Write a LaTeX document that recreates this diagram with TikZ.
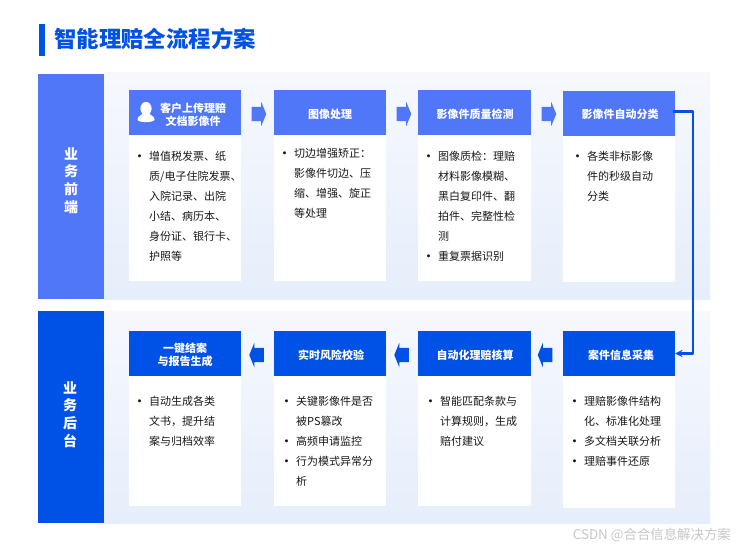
\documentclass[tikz,border=0pt]{standalone}
\usepackage{fontspec}
\setmainfont{Noto Sans CJK SC}
\usetikzlibrary{shapes.arrows}
\definecolor{lanA}{HTML}{5077F8}
\definecolor{lanB}{HTML}{0052E6}
\definecolor{panA}{HTML}{F6F8FD}
\definecolor{panB}{HTML}{E6EEFB}
\newcommand{\bul}{\llap{\bfseries •\hspace{4pt}}}
\tikzset{
	sidebox/.style={inner sep=0pt, minimum width=66pt},
	sidetext/.style={inner sep=0pt, text=white, align=center, font=\fontsize{14}{17.6}\selectfont\bfseries},
	headbox/.style={inner sep=0pt, minimum height=45pt},
	headtext/.style={inner sep=0pt, text=white, align=center, font=\fontsize{11}{12.7}\selectfont\bfseries},
	bodybox/.style={fill=white, inner sep=0pt},
	bodytext/.style={inner sep=0pt, anchor=north west, align=left, text=black!90, font=\fontsize{11}{20}\selectfont},
	blockarrow/.style={single arrow, inner xsep=0pt, inner ysep=7pt, minimum height=14.5pt, single arrow head extend=5pt, single arrow tip angle=135},
	flowline/.style={->, draw=lanB, line width=2.2pt}
}
\begin{document}
\begin{tikzpicture}[>=stealth, line join=round, x=1pt, y=-1pt]
	\useasboundingbox (0,0) rectangle (741,548);
	\fill[white] (0,0) rectangle (741,548);
	% ==================== 标题 ====================
	\fill[lanB] (39,24) rectangle (45,56);
	\node[anchor=west, inner sep=0pt, text=lanB, font=\fontsize{22.4}{24}\selectfont\bfseries] (title) at (54,39) {智能理赔全流程方案};
	% ==================== 底板 ====================
	\shade[top color=panA, bottom color=panB] (104,73) rectangle (710,299);
	\shade[top color=panA, bottom color=panB] (104,311) rectangle (710,523);
	\node[sidebox, fill=lanA, minimum height=225pt] (front) at (71,186.5) {};
	\node[sidebox, fill=lanB, minimum height=212pt] (back) at (71,417) {};
	\node[sidetext] (fronttext) at (71,180.5) {业\\务\\前\\端};
	\node[sidetext] (backtext) at (70,414.5) {业\\务\\后\\台};
	% ==================== 卡片 ====================
	\foreach \n/\x/\y/\w/\h in {1/185/208/112/146,2/330/208/112/146,3/474.5/208/113/146,4/619/209/112/146,5/619/442/112/132,6/474.5/441/113/130,7/330/441/112/130,8/185/441/112/130}
		\node[bodybox, minimum width=\w pt, minimum height=\h pt] (body\n) at (\x,\y) {};
	% ==================== 表头 ====================
	\foreach \n/\x/\y/\w/\c/\tx/\ty/\t in {
		1/185/112.5/112/lanA/193/114.5/{客户上传理赔\\文档影像件},
		2/330/112.5/112/lanA/330/114/{图像处理},
		3/474.5/112.5/113/lanA/475/114/{影像件质量检测},
		4/619/113.5/112/lanA/620/114.5/{影像件自动分类},
		5/619/353.5/112/lanB/621/355/{案件信息采集},
		6/474.5/353.5/113/lanB/475/355/{自动化理赔核算},
		7/330/353.5/112/lanB/331/355/{实时风险校验},
		8/185/353.5/112/lanB/185/355/{一键结案\\与报告生成}}
	{
		\node[headbox, fill=\c, minimum width=\w pt] (head\n) at (\x,\y) {};
		\node[headtext] (label\n) at (\tx,\ty) {\t};
	}
	% 人像
	\fill[white] (146,108.5) ellipse (5.6 and 6.6);
	\fill[white] (137.5,119.5) .. controls (137.5,115.5) and (142,116) .. (143,112.5) -- (149,112.5) .. controls (150,116) and (154.5,115.5) .. (154.5,119.5) .. controls (154.5,123) and (137.5,123) .. (137.5,119.5) -- cycle;
	% ==================== 正文 ====================
	\foreach \n/\x/\y/\t in {
		1/149/151/{\bul 增值税发票、纸\\质/电子住院发票、\\入院记录、出院\\小结、病历本、\\身份证、银行卡、\\护照等},
		2/294/148.5/{\bul 切边增强矫正：\\影像件切边、压\\缩、增强、旋正\\等处理},
		3/438/151/{\bul 图像质检：理赔\\材料影像模糊、\\黑白复印件、翻\\拍件、完整性检\\测\\\bul 重复票据识别},
		4/587/151/{\bul 各类非标影像\\件的秒级自动\\分类},
		5/584/396/{\bul 理赔影像件结构\\化、标准化处理\\\bul 多文档关联分析\\\bul 理赔事件还原},
		6/440/396/{\bul 智能匹配条款与\\计算规则，生成\\赔付建议},
		7/296/396/{\bul 关键影像件是否\\被PS篡改\\\bul 高频申请监控\\\bul 行为模式异常分\\析},
		8/149/396/{\bul 自动生成各类\\文书，提升结\\案与归档效率}}
		\node[bodytext] (text\n) at (\x,\y) {\t};
	% ==================== 箭头 ====================
	\foreach \n/\x in {a/257.5, b/402.5, c/547.5}
		\node[blockarrow, fill=lanA] (arrow\n) at (\x,114) {};
	\foreach \n/\x in {d/546.5, e/403, f/258}
		\node[blockarrow, fill=lanB, shape border rotate=180] (arrow\n) at (\x,355) {};
	\coordinate (turn) at (693,111.5);
	\coordinate (start) at (673,111.5);
	\draw[flowline] (start) -- (turn) |- (head5.east);
	% ==================== 水印 ====================
	\node[anchor=east, inner sep=0pt, text=black!22, font=\fontsize{13.4}{15}\selectfont] (mark) at (731,535) {CSDN @合合信息解决方案};
\end{tikzpicture}
\end{document}
